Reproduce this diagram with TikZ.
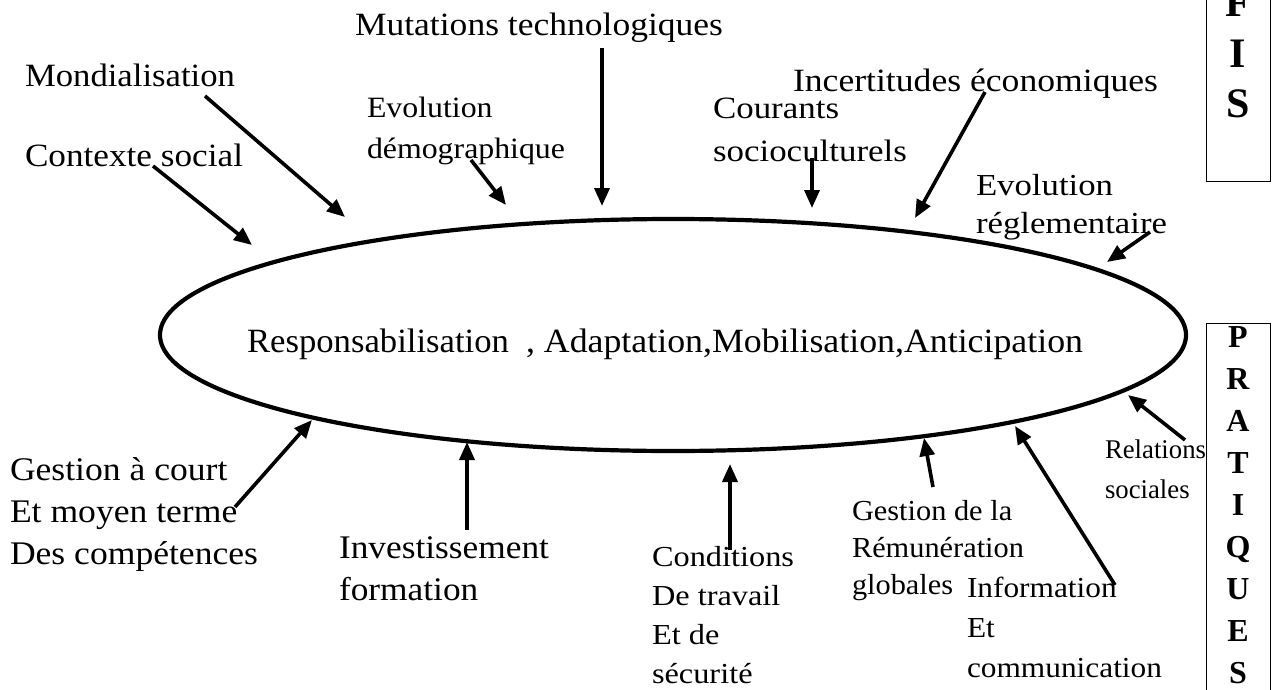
\documentclass[tikz,border=0pt]{standalone}
\usepackage{fontspec}
\setmainfont{Liberation Serif}
\usepackage{graphicx}
\usetikzlibrary{arrows.meta,shapes.geometric}
\newcommand\wl[2]{\resizebox{#1pt}{\height}{\begin{tabular}[t]{@{}l@{}}#2\end{tabular}}}
\newcommand\ctext[1]{\begin{tabular}[t]{@{}c@{}}#1\end{tabular}}
\begin{document}
\begin{tikzpicture}[x=1pt,y=-1pt,
  lbl/.style={anchor=base west, inner sep=0pt, outer sep=0pt},
  arr/.style={line width=3.6pt, -{Triangle[length=18pt,width=15pt]}},
  box/.style={draw, line width=1.3pt, inner sep=0pt, minimum width=64pt},
  big/.style={font=\fontsize{32.5}{38}\selectfont},
  ]
\useasboundingbox (0,0) rectangle (1277,690);

% central ellipse
\node[draw, ellipse, line width=4.2pt, minimum width=1026pt, minimum height=232pt, inner sep=0pt] (ell) at (673,335) {};
\node[lbl, font=\fontsize{34}{40}\selectfont] (resp) at (247,352) {\wl{262}{Responsabilisation}};
\node[lbl, font=\fontsize{34}{40}\selectfont] (adap) at (526,352) {\wl{557}{, Adaptation,Mobilisation,Anticipation}};

% top labels
\node[lbl, big] (mut) at (355,36) {\wl{368}{Mutations technologiques}};
\node[lbl, big] (mond) at (25,87) {\wl{210}{Mondialisation}};
\node[lbl, big] (ctx) at (25,166) {\wl{218}{Contexte social}};
\node[lbl, font=\fontsize{29.5}{40}\selectfont] (demo) at (367,118) {\wl{198}{Evolution\\démographique}};
\node[lbl, font=\fontsize{31}{43}\selectfont] (cour) at (713,119) {\wl{194}{Courants\\socioculturels}};
\node[lbl, big] (inc) at (793,92) {\wl{365}{Incertitudes économiques}};
\node[lbl, font=\fontsize{30.5}{38}\selectfont] (regl) at (976,195) {\wl{191}{Evolution\\réglementaire}};

% bottom labels
\node[lbl, font=\fontsize{27}{40}\selectfont] (rel) at (1105,458) {\wl{101}{Relations\\sociales}};
\node[lbl, font=\fontsize{33}{42}\selectfont] (gest) at (10,480) {\wl{248}{Gestion à court\\Et moyen terme\\Des compétences}};
\node[lbl, font=\fontsize{33}{42}\selectfont] (inv) at (339,558) {\wl{210}{Investissement\\formation}};
\node[lbl, font=\fontsize{29}{39}\selectfont] (cond) at (652,566) {\wl{142}{Conditions\\De travail\\Et de\\sécurité}};
\node[lbl, font=\fontsize{29}{37}\selectfont] (rem) at (852,520) {\wl{172}{Gestion de la\\Rémunération\\globales}};
\node[lbl, font=\fontsize{29}{40}\selectfont] (info) at (967,597) {\wl{195}{Information\\Et\\communication}};

% side boxes
\node[box, minimum height=200pt, anchor=south west] (fisbox) at (1206,182) {};
\node[font=\bfseries\fontsize{42}{50.5}\selectfont, anchor=base, inner sep=0pt] (fis) at (1238,17) {\ctext{F\\I\\S}};
\node[box, minimum height=380pt, anchor=north west] (pratbox) at (1206,323) {};
\node[font=\bfseries\fontsize{32}{42}\selectfont, anchor=base, inner sep=0pt] (prat) at (1238,347) {\ctext{P\\R\\A\\T\\I\\Q\\U\\E\\S}};

% arrow end points
\coordinate (mutA) at (602,48);   \coordinate (mutB) at (602,206);
\coordinate (mondA) at (205,96);  \coordinate (mondB) at (345,217);
\coordinate (ctxA) at (153,166);  \coordinate (ctxB) at (252,245);
\coordinate (demoA) at (471,160); \coordinate (demoB) at (506,205);
\coordinate (courA) at (812,158); \coordinate (courB) at (812,208);
\coordinate (incA) at (985,92);   \coordinate (incB) at (915,218);
\coordinate (reglA) at (1150,232); \coordinate (reglB) at (1107,262);
\coordinate (relA) at (1185,440); \coordinate (relB) at (1128,395);
\coordinate (gestA) at (235,507); \coordinate (gestB) at (312,420);
\coordinate (invA) at (467,530);  \coordinate (invB) at (467,442);
\coordinate (condA) at (730,550); \coordinate (condB) at (730,464);
\coordinate (remA) at (933,487);  \coordinate (remB) at (924,438);
\coordinate (infoA) at (1115,585); \coordinate (infoB) at (1015,426);

\foreach \n in {mut,mond,ctx,demo,cour,inc,regl,rel,gest,inv,cond,rem,info}
  \draw[arr] (\n A) -- (\n B);
\end{tikzpicture}
\end{document}
